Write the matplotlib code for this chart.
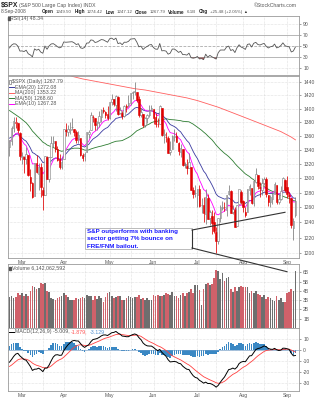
import numpy as np
import pandas as pd
import matplotlib
matplotlib.use("Agg")
import matplotlib.pyplot as plt
from matplotlib.lines import Line2D
from matplotlib.patches import Rectangle

plt.rcParams['font.family'] = ['Liberation Sans', 'DejaVu Sans']

# ---------------- data ----------------
# warm-up closes (Dec 3 2007 .. Feb 21 2008) used only for indicator calculation
hist_close = [1472.42, 1462.79, 1485.01, 1507.34, 1504.66, 1515.96, 1477.65, 1486.59, 1488.41, 1467.95,
              1445.90, 1454.98, 1453.00, 1460.12, 1484.46, 1496.45, 1497.66, 1476.27, 1478.49, 1468.36,
              1447.16, 1447.16, 1411.63, 1416.18, 1390.19, 1409.13, 1420.33, 1401.02, 1416.25, 1380.95,
              1373.20, 1333.25, 1325.19, 1310.50, 1338.60, 1352.07, 1330.61, 1353.96, 1362.30, 1355.81,
              1378.55, 1395.42, 1380.82, 1336.64, 1326.45, 1336.91, 1331.29, 1339.13, 1348.86, 1367.21,
              1348.86, 1349.99, 1348.78, 1360.03, 1342.53]

opens = [1344, 1352, 1371, 1378, 1378, 1364,
         1330, 1329, 1327, 1332, 1301, 1293, 1275, 1321, 1305, 1316, 1283, 1277, 1330, 1299,
         1330, 1350, 1352, 1341, 1327, 1315,
         1326, 1369, 1365, 1369, 1373, 1370, 1365, 1355, 1357, 1332, 1331, 1337, 1363, 1369,
         1387, 1386, 1378, 1380, 1387, 1397, 1395, 1392,
         1386, 1410, 1414, 1405, 1417, 1394, 1394, 1389, 1404, 1405, 1409, 1424, 1425, 1425,
         1414, 1391, 1392, 1376, 1386, 1390, 1398,
         1400, 1387, 1377, 1377, 1401, 1361, 1358, 1357, 1336, 1341, 1358, 1360, 1349, 1336,
         1341, 1319, 1317, 1314, 1316, 1283, 1279,
         1276, 1285, 1263, 1263, 1251, 1273, 1245, 1248, 1241, 1227, 1215, 1246, 1259, 1261,
         1257, 1278, 1282, 1253, 1257, 1235, 1264, 1281,
         1269, 1253, 1254, 1283, 1286, 1266, 1295, 1304, 1288, 1283, 1293, 1298, 1276, 1267,
         1271, 1278, 1290, 1267, 1271, 1283, 1297,
         1288, 1277, 1272, 1233, 1249.50]
highs = [1354, 1374, 1388, 1388, 1379, 1365,
         1336, 1331, 1344, 1333, 1313, 1295, 1321, 1333, 1321, 1321, 1288, 1331, 1331, 1330,
         1360, 1360, 1352, 1345, 1334, 1328,
         1370, 1378, 1375, 1380, 1386, 1370, 1368, 1367, 1357, 1335, 1337, 1365, 1369, 1395,
         1390, 1386, 1382, 1397, 1399, 1402, 1397, 1404,
         1410, 1422, 1415, 1421, 1419, 1402, 1396, 1405, 1407, 1420, 1424, 1427, 1440, 1425,
         1419, 1401, 1392, 1388, 1392, 1406, 1405,
         1400, 1394, 1386, 1405, 1401, 1370, 1366, 1359, 1353, 1361, 1370, 1366, 1351, 1348,
         1341, 1323, 1326, 1335, 1316, 1288, 1290,
         1285, 1291, 1272, 1274, 1285, 1278, 1257, 1257, 1254, 1234, 1246, 1263, 1268, 1267,
         1277, 1291, 1283, 1263, 1260, 1263, 1284, 1284,
         1270, 1260, 1285, 1292, 1286, 1297, 1314, 1304, 1294, 1300, 1302, 1301, 1276, 1277,
         1281, 1294, 1290, 1276, 1289, 1301, 1298,
         1303, 1281, 1272, 1245, 1274.42]
lows = [1331, 1346, 1366, 1371, 1364, 1325,
        1320, 1307, 1320, 1303, 1282, 1272, 1275, 1307, 1283, 1274, 1257, 1277, 1298, 1295,
        1330, 1344, 1336, 1324, 1312, 1313,
        1326, 1360, 1359, 1362, 1369, 1360, 1350, 1350, 1331, 1324, 1324, 1337, 1356, 1369,
        1380, 1369, 1368, 1373, 1380, 1394, 1386, 1383,
        1385, 1406, 1404, 1397, 1391, 1392, 1384, 1387, 1395, 1403, 1405, 1415, 1420, 1410,
        1388, 1387, 1373, 1372, 1379, 1388, 1396,
        1377, 1372, 1372, 1377, 1360, 1350, 1351, 1335, 1333, 1341, 1352, 1351, 1333, 1330,
        1317, 1314, 1305, 1314, 1283, 1272, 1274,
        1261, 1261, 1252, 1241, 1238, 1244, 1236, 1225, 1226, 1200, 1211, 1240, 1256, 1255,
        1248, 1276, 1252, 1251, 1234, 1235, 1264, 1265,
        1254, 1247, 1254, 1276, 1264, 1262, 1293, 1285, 1274, 1277, 1290, 1274, 1262, 1261,
        1264, 1278, 1264, 1264, 1270, 1283, 1281,
        1272, 1266, 1233, 1217, 1247.12]
closes = [1353.11, 1371.80, 1381.29, 1380.02, 1367.68, 1330.63,
          1331.34, 1326.75, 1333.70, 1304.34, 1293.37, 1273.37, 1320.65, 1308.77, 1315.48, 1288.14,
          1276.60, 1330.74, 1298.42, 1329.51, 1349.88, 1352.99, 1341.13, 1325.76, 1315.22, 1322.70,
          1370.18, 1367.53, 1369.31, 1370.40, 1372.54, 1365.54, 1354.49, 1360.55, 1332.83, 1328.32,
          1334.43, 1364.71, 1365.56, 1390.33, 1388.17, 1375.94, 1379.93, 1388.82, 1397.84, 1396.37,
          1390.94, 1385.59,
          1409.34, 1413.90, 1407.49, 1418.26, 1392.57, 1397.68, 1388.28, 1403.58, 1403.04, 1408.66,
          1423.57, 1425.35, 1426.63, 1413.40, 1390.71, 1394.35, 1375.93, 1385.35, 1390.84, 1398.26,
          1400.38,
          1385.67, 1377.65, 1377.20, 1404.05, 1360.68, 1361.76, 1358.44, 1335.49, 1339.87, 1360.03,
          1360.14, 1350.93, 1337.81, 1342.83, 1317.93, 1318.00, 1314.29, 1321.97, 1283.15, 1278.38,
          1280.00,
          1284.91, 1261.52, 1262.90, 1252.31, 1273.70, 1244.69, 1253.39, 1239.49, 1228.30, 1214.91,
          1245.36, 1260.32, 1260.68, 1260.00, 1277.00, 1282.19, 1252.54, 1257.76, 1234.37, 1263.20,
          1284.26, 1267.38,
          1260.31, 1249.01, 1284.88, 1289.19, 1266.07, 1296.32, 1305.32, 1289.59, 1285.83, 1292.93,
          1298.20, 1278.60, 1266.69, 1274.54, 1277.72, 1292.20, 1266.84, 1271.51, 1281.66, 1300.68,
          1282.83,
          1277.58, 1274.98, 1236.83, 1242.31, 1267.79]
volumes = [3.3, 3.4, 3.2, 3.3, 3.8, 3.6,
           3.8, 3.5, 3.7, 3.4, 4.0, 4.5, 4.4, 4.2, 4.3, 4.9, 4.7, 4.9, 4.0, 3.9, 3.2, 3.1, 3.0, 3.2, 3.3, 3.4,
           3.8, 3.6, 3.3, 3.0, 3.0, 3.0, 3.2, 3.1, 3.2, 3.3, 3.2, 3.6, 3.4, 3.5, 3.0, 3.5, 3.1, 3.4, 3.2, 2.8, 3.3, 3.8,
           3.9, 3.5, 3.2, 3.3, 3.4, 3.5, 3.0, 3.0, 3.2, 3.4, 3.3, 3.2, 3.3, 3.3, 3.6, 3.1, 3.2, 3.0, 3.2, 3.0, 3.0,
           3.6, 3.5, 3.6, 3.4, 3.5, 3.6, 3.8, 3.7, 3.6, 3.9, 3.5, 3.4, 3.2, 3.6, 3.8, 3.4, 3.8, 3.9, 4.2, 3.8, 4.6,
           4.6, 4.1, 2.5, 4.2, 4.7, 4.8, 4.6, 4.7, 5.4, 6.3, 6.1, 5.3, 5.9, 5.1, 5.4, 5.5, 4.2, 3.9, 4.4, 4.0, 4.4, 4.5,
           4.4, 4.4, 4.4, 3.8, 4.0, 3.8, 4.0, 3.7, 3.6, 3.3, 3.6, 3.1, 3.3, 3.2, 3.0, 2.9, 3.4, 3.0, 3.2, 2.8, 2.8,
           3.8, 3.9, 4.2, 4.0, 6.14]
# MA(200) every 5 sessions (plus last session)
ma200_samples = [1478, 1474, 1470, 1466, 1461, 1455, 1449, 1445, 1442, 1439, 1436, 1433, 1430, 1428,
                 1425, 1422, 1419, 1416, 1412, 1407, 1402, 1396, 1390, 1384, 1378, 1372, 1366, 1358, 1354]

holidays = ['2008-03-21', '2008-05-26', '2008-07-04', '2008-09-01']
dates = pd.bdate_range('2008-02-22', '2008-09-08')
dates = dates[~dates.isin(pd.to_datetime(holidays))]

o = np.array(opens, float); h = np.array(highs, float)
l = np.array(lows, float); c = np.array(closes, float)
v = np.array(volumes, float)
n = len(c)
idx = np.arange(n)

allc = pd.Series(hist_close + closes)
nh = len(hist_close)
ema20 = allc.ewm(span=20, adjust=False).mean().values[nh:]
ema10 = allc.ewm(span=10, adjust=False).mean().values[nh:]
ma50 = allc.rolling(50, min_periods=1).mean().values[nh:]
d = allc.diff()
up = d.clip(lower=0).ewm(alpha=1/14, adjust=False).mean()
dn = (-d.clip(upper=0)).ewm(alpha=1/14, adjust=False).mean()
rsi = (100 - 100 / (1 + up / dn)).values[nh:]
macd_all = allc.ewm(span=12, adjust=False).mean() - allc.ewm(span=26, adjust=False).mean()
sig_all = macd_all.ewm(span=9, adjust=False).mean()
macd = macd_all.values[nh:]; sig = sig_all.values[nh:]; hist = macd - sig

ma200_x = list(range(0, n, 5)) + [n - 1]

prev = np.r_[hist_close[-1], c[:-1]]
down = c < prev

month_first = [i for i in range(1, n) if dates[i].month != dates[i-1].month]
month_lbl = [dates[i].strftime('%b') for i in month_first]
mid_month = [i for i in range(1, n) if dates[i].day >= 15 and dates[i-1].day < 15]
vgrid = sorted(month_first + mid_month)

# ---------------- figure ----------------
W, H = 322, 400
fig = plt.figure(figsize=(W/100, H/100), dpi=100)
fig.patch.set_facecolor('white')
renderer = fig.canvas.get_renderer()

def fx(x): return x / W
def fy(y): return 1 - y / H

GRID = dict(color='#c8c8c8', lw=0.4, ls=(0, (1, 1.5)), zorder=0)

def mk(top, bottom):
    ax = fig.add_axes([fx(8), fy(bottom), (299 - 8) / W, (bottom - top) / H])
    ax.set_xlim(-0.7, 138.7)
    ax.yaxis.tick_right()
    ax.tick_params(axis='y', labelsize=3.6, colors='#555555', length=1.5, width=0.4, pad=1.5)
    ax.tick_params(axis='x', labelsize=3.6, colors='#555555', length=0, pad=1.5)
    for s in ax.spines.values():
        s.set_color('#9a9a9a'); s.set_linewidth(0.6)
    for xg in vgrid:
        ax.axvline(xg, **GRID)
    return ax

TXT = '#555555'
RED = '#e00000'
GRAY = '#7a7a7a'

# RSI panel
ax1 = mk(16, 75)
ax1.set_ylim(-2.7, 104.5)
ax1.set_yticks([10, 30, 50, 70, 90])
for yv in [10, 90]:
    ax1.axhline(yv, **GRID)
ax1.axhline(70, color='#9a9a9a', lw=0.5)
ax1.axhline(30, color='#9a9a9a', lw=0.5)
ax1.axhline(50, color='#9a9a9a', lw=0.5, ls=(0, (4, 2)))
ax1.plot(idx, rsi, color='#555555', lw=0.6)
ax1.fill_between(idx, rsi, 30, where=rsi < 30, color='#c05050', lw=0, interpolate=True)
ax1.fill_between(idx, rsi, 70, where=rsi > 70, color='#5070c0', lw=0, interpolate=True)
ax1.set_xticks([])

# Price panel
ax2 = mk(76, 258)
ax2.set_yscale('log')
ax2.set_ylim(1193.6, 1449.5)
pt = list(range(1200, 1441, 20))
ax2.set_yticks(pt)
ax2.set_yticklabels([str(p) for p in pt])
ax2.yaxis.set_minor_locator(matplotlib.ticker.NullLocator())
for p in pt:
    ax2.axhline(p, **GRID)
ax2.plot(ma200_x, ma200_samples, color='#ff6060', lw=0.6, zorder=2)
ax2.plot(idx, ma50, color='#2e7d32', lw=0.6, zorder=2)
ax2.plot(idx, ema20, color='#3a3aa0', lw=0.6, zorder=2)
ax2.plot(idx, ema10, color='#ff00ff', lw=0.6, zorder=2)
ccol = np.where(down, RED, GRAY)
ax2.vlines(idx, l, h, colors=ccol, lw=0.55, zorder=3)
filled = c < o
face = [cc if f else 'white' for cc, f in zip(ccol, filled)]
bb = np.minimum(o, c); bh = np.maximum(np.abs(c - o), 0.8)
ax2.bar(idx, bh, bottom=bb, width=0.75, color=face, edgecolor=ccol, linewidth=0.4, zorder=4)
ax2.set_xticks(month_first)
ax2.set_xticklabels(month_lbl)

# Volume panel
ax3 = mk(264, 328)
ax3.set_ylim(0, 6.9)
ax3.set_yticks([1, 2, 3, 4, 5, 6])
ax3.set_yticklabels(['1B', '2B', '3B', '4B', '5B', '6B'])
for yv in [1, 2, 3, 4, 5, 6]:
    ax3.axhline(yv, **GRID)
vcol = np.where(down, '#d0616a', '#6e6e6e')
ax3.bar(idx, v, width=0.8, color=vcol, linewidth=0, zorder=2)
ax3.set_xticks([])

# MACD panel
ax4 = mk(328, 391)
ax4.set_ylim(-37.3, 20)
mt = [10, 0, -10, -20, -30]
ax4.set_yticks(mt)
ax4.set_yticklabels([str(m) for m in mt])
for yv in mt:
    ax4.axhline(yv, **GRID)
ax4.bar(idx, hist, width=0.8, color='#3a88c4', linewidth=0, zorder=2)
ax4.axhline(0, color='#6a9ac8', lw=0.4, zorder=2)
ax4.plot(idx, sig, color='#ff4040', lw=0.6, zorder=3)
ax4.plot(idx, macd, color='black', lw=0.7, zorder=4)
ax4.set_xticks(month_first)
ax4.set_xticklabels(month_lbl)

# ---------------- texts ----------------
def t(x, y, s, **kw):
    kw.setdefault('fontsize', 3.8)
    kw.setdefault('color', TXT)
    ha = kw.pop('ha', 'left')
    return fig.text(fx(x), fy(y), s, va='center', ha=ha, **kw)

def seq(x, y, items):
    for s, kw, gap in items:
        tt = t(x, y, s, **kw)
        w = tt.get_window_extent(renderer=renderer).width
        x = x + w + gap
    return x

B = dict(fontsize=3.35, fontweight='bold', color='#222222')
N = dict(fontsize=3.15)
t(1, 5, r'\$SPX', fontsize=4.9, fontweight='bold', color='#222222')
t(19, 5.5, '(S&P 500 Large Cap Index) INDX', fontsize=3.7)
t(297, 5.5, '\u00a9StockCharts.com', fontsize=3.7, ha='right')
t(1, 12, '8-Sep-2008', fontsize=3.5)
seq(42, 12, [('Open', B, 1.7), ('1249.50', N, 3.0), ('High', B, 1.7), ('1274.42', N, 3.0),
             ('Low', B, 1.7), ('1247.12', N, 3.0), ('Close', B, 1.7), ('1267.79', N, 3.0),
             ('Volume', B, 1.7), ('6.1B', N, 3.0), ('Chg', B, 1.7), ('+25.48 (+2.05%)', N, 1.5),
             ('\u25b2', dict(fontsize=2.8, color='#333333'), 0)])

t(10, 18.5, 'RSI(14) 48.34', fontsize=3.8)
fig.add_artist(Rectangle((fx(7.5), fy(20)), 2 / W, 3 / H, transform=fig.transFigure, color='#555555'))

t(12, 81.5, r'\$SPX (Daily) 1267.79', fontsize=3.8)
fig.add_artist(Rectangle((fx(9), fy(83.5)), 1.6 / W, 4 / H, transform=fig.transFigure,
                         facecolor='white', edgecolor='#555555', lw=0.4))
leg = [(87, '#3a3aa0', 'EMA(20) 1272.08'), (92.7, '#ff6060', 'MA(200) 1353.22'),
       (98.3, '#2e7d32', 'MA(50) 1268.60'), (104, '#ff00ff', 'EMA(10) 1267.28')]
for yy, col, s in leg:
    fig.add_artist(Line2D([fx(9), fx(13.5)], [fy(yy), fy(yy)], transform=fig.transFigure, color=col, lw=0.7))
    t(15, yy, s, fontsize=3.8)

t(12, 268, 'Volume 6,142,062,592', fontsize=3.8)
fig.add_artist(Rectangle((fx(9), fy(269.5)), 2 / W, 3 / H, transform=fig.transFigure, color='#555555'))

fig.add_artist(Line2D([fx(9), fx(13.5)], [fy(332), fy(332)], transform=fig.transFigure, color='black', lw=0.7))
seq(15, 332, [('MACD(12,26,9) -5.009,', dict(fontsize=3.8), 1.5),
              ('-1.879,', dict(fontsize=3.8, color='#ff5050'), 1.5),
              ('-3.129', dict(fontsize=3.8, color='#5090d0'), 0)])

# callout
fig.add_artist(Rectangle((fx(85), fy(249)), (192 - 85) / W, 21 / H, transform=fig.transFigure,
                         facecolor='white', edgecolor='#b0b0b0', lw=0.6, zorder=10))
for yy, s in [(231.5, 'S&P outperforms with banking'), (238.8, 'sector getting 7% bounce on'),
              (246, 'FRE/FNM bailout.')]:
    fig.text(fx(87), fy(yy), s, va='center', ha='left', fontsize=4.5, fontweight='bold',
             color='#1a1aff', zorder=11)
fig.add_artist(Line2D([fx(192), fx(192)], [fy(230), fy(248)], transform=fig.transFigure,
                      color='#333333', lw=0.8, zorder=12))
fig.add_artist(Line2D([fx(192), fx(285)], [fy(230), fy(212.3)], transform=fig.transFigure,
                      color='#333333', lw=0.8, zorder=12))
fig.add_artist(Line2D([fx(192), fx(287)], [fy(248), fy(271.7)], transform=fig.transFigure,
                      color='#333333', lw=0.8, zorder=12))

fig.savefig('out.png', dpi=100, facecolor='white')
